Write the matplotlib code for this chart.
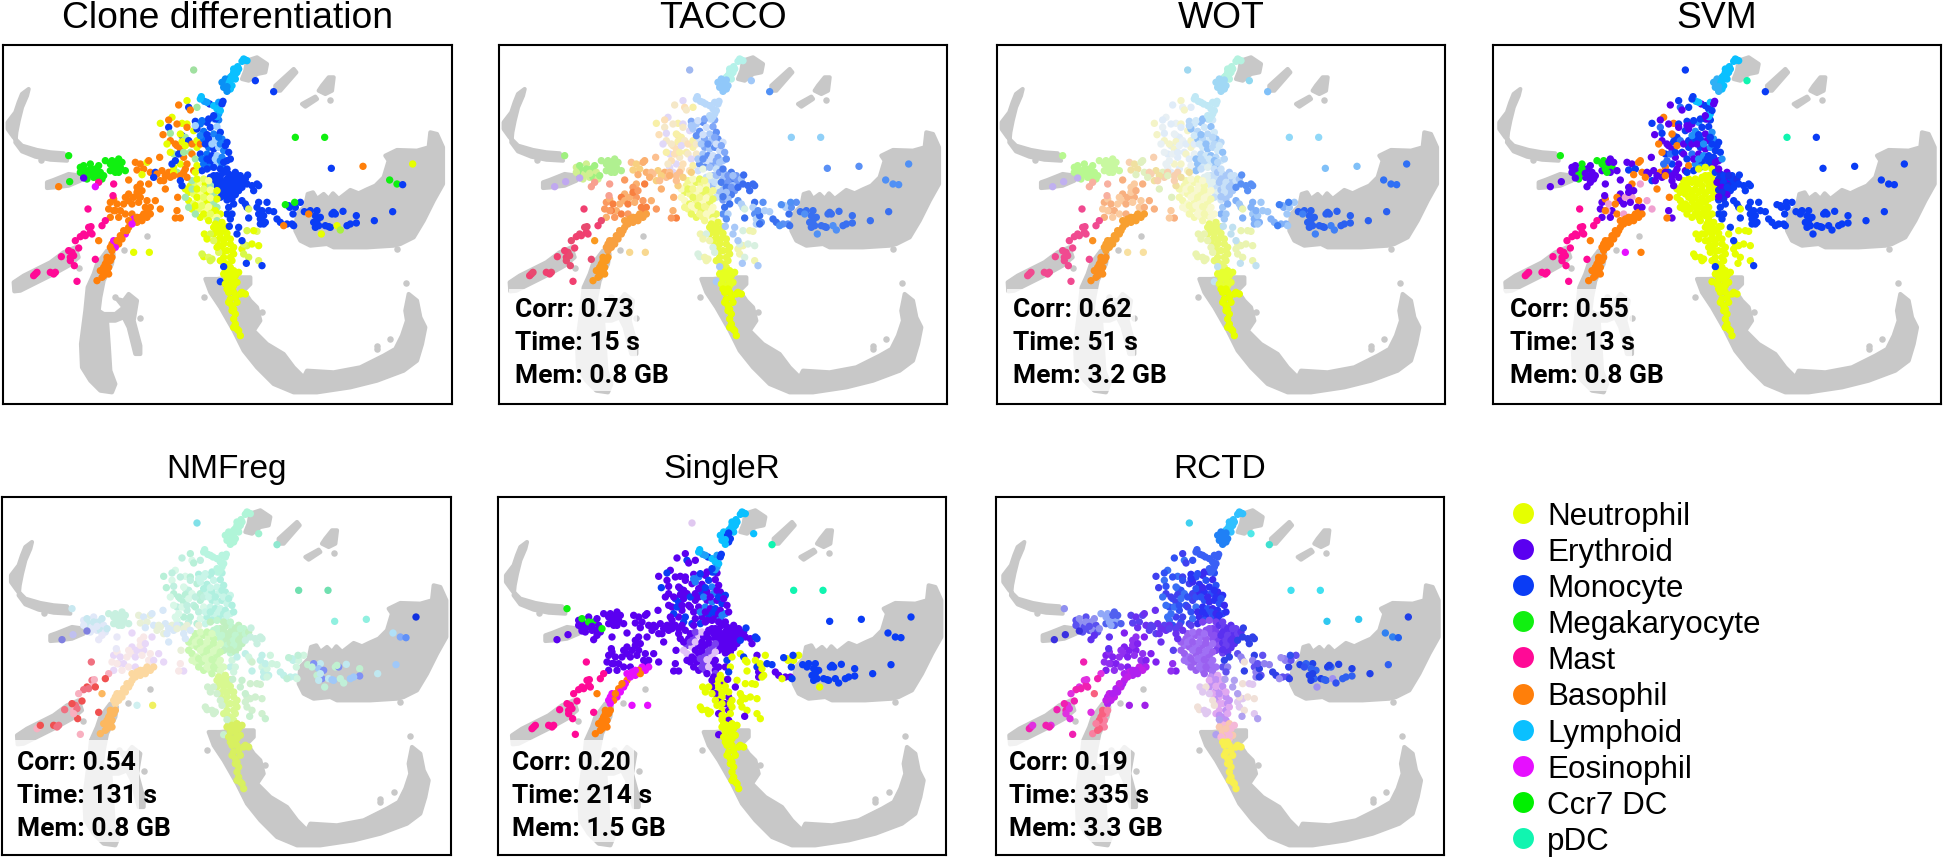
import matplotlib
matplotlib.use("Agg")
import matplotlib.pyplot as plt

plt.rcParams['font.family'] = ['Liberation Sans', 'DejaVu Sans']

W, H = 1943, 858

titles = ["Clone differentiation", "TACCO", "WOT", "SVM", "NMFreg", "SingleR", "RCTD"]
corr = [None, "0.73", "0.62", "0.55", "0.54", "0.20", "0.19"]
time_s = [None, "15", "51", "13", "131", "214", "335"]
mem_gb = [None, "0.8", "3.2", "0.8", "0.8", "1.5", "3.3"]

# panel boxes in pixels: left, top, right, bottom
boxes = [(3, 45, 452, 404), (499, 45, 947, 404), (997, 45, 1445, 404), (1493, 45, 1941, 404),
         (2, 497, 451, 855), (498, 497, 946, 855), (996, 497, 1444, 855)]
shift_x = [0, 0, 0, 5, 13, 10, 8]
shift_y = [0, 0, 0, 0, 3, 3, 3]
label_x = [0, 16, 16, 17, 15, 14, 13]

legend_names = ["Neutrophil", "Erythroid", "Monocyte", "Megakaryocyte", "Mast",
                "Basophil", "Lymphoid", "Eosinophil", "Ccr7 DC", "pDC"]
legend_colors = ["#e6ff00", "#5a00f0", "#0a3cf5", "#10f010", "#ff0a96",
                 "#ff7f0a", "#0ac0ff", "#e60fff", "#00f000", "#10f5b0"]

N, E, M, G, K, B, L, O, P = ("#e6ff00", "#5a00f0", "#0a3cf5", "#10f010", "#ff0a96",
                             "#ff7f0a", "#0ac0ff", "#e60fff", "#10f5b0")

# grey background of the embedding
grey_hook = [(85, 135), (65, 150), (55, 175), (45, 205), (22, 235), (22, 255), (40, 280), (65, 305), (110, 318),
             (150, 325), (190, 328), (200, 350), (150, 347), (105, 338), (65, 322), (45, 295), (48, 265),
             (55, 230), (65, 190), (80, 155)]
grey_branch = [(140, 415), (160, 408), (205, 390), (240, 395), (240, 410), (205, 425), (165, 430), (140, 432)]
grey_mast = [(40, 715), (70, 695), (110, 675), (150, 655), (190, 625), (225, 610), (235, 640), (205, 665),
             (160, 690), (110, 715), (60, 740), (42, 742)]
grey_column = [(290, 660), (320, 620), (340, 630), (335, 660), (310, 710), (300, 760), (295, 800), (310, 810),
               (320, 830), (325, 900), (330, 980), (345, 1020), (335, 1045), (300, 1040), (270, 1010),
               (245, 970), (242, 900), (255, 800), (262, 730), (280, 690)]
grey_side = [(310, 810), (345, 810), (370, 790), (350, 765), (370, 770), (385, 750), (410, 770), (400, 830),
             (420, 905), (420, 930), (405, 930), (385, 850), (370, 820), (345, 830), (320, 830)]
grey_top = [(740, 50), (770, 40), (800, 60), (795, 85), (770, 90), (745, 110), (725, 105), (735, 80)]
grey_streak = [(825, 125), (880, 75), (888, 85), (840, 140), (825, 140)]
grey_blob = [(965, 125), (985, 100), (1000, 100), (995, 140), (975, 150), (955, 140)]
grey_small = [(905, 180), (945, 158), (950, 165), (915, 188)]
grey_right = [(885, 560), (890, 510), (915, 485), (922, 450), (938, 445), (950, 465), (970, 450), (985, 465),
              (998, 448), (1015, 465), (1050, 438), (1075, 448), (1100, 436), (1125, 425), (1150, 400),
              (1165, 350), (1155, 335), (1190, 318), (1250, 320), (1285, 310), (1290, 265), (1310, 270),
              (1328, 310), (1328, 420), (1300, 470), (1270, 530), (1240, 580), (1200, 600), (1180, 605),
              (1100, 610), (1000, 610), (980, 600), (930, 605), (900, 590)]
grey_bottom = [(615, 705), (650, 705), (700, 700), (750, 700), (750, 720), (730, 740), (750, 770), (770, 790),
               (780, 830), (760, 860), (800, 900), (850, 930), (880, 970), (910, 1000), (920, 980), (1000, 985),
               (1080, 970), (1150, 935), (1185, 915), (1205, 875), (1220, 830), (1215, 800), (1225, 750),
               (1250, 770), (1260, 820), (1275, 850), (1265, 900), (1250, 950), (1210, 980), (1130, 1010),
               (1050, 1030), (950, 1045), (880, 1045), (820, 1020), (770, 970), (730, 920), (700, 860),
               (660, 790), (630, 745)]
grey_shapes = [grey_hook, grey_branch, grey_mast, grey_column, grey_side, grey_top, grey_streak,
               grey_blob, grey_small, grey_right, grey_bottom]
grey_dots = [(122, 347), (345, 760), (420, 822), (990, 168), (1190, 615), (1218, 718), (1130, 905), (1130, 915),
             (1170, 885), (610, 760), (785, 805), (440, 577), (372, 617), (237, 672)]

# cells, grouped by region
lym_top = [(735, 48), (725, 52), (712, 68), (700, 75), (705, 90), (695, 95), (690, 110), (705, 105), (710, 85),
           (730, 45), (740, 50), (700, 85), (690, 100), (715, 75)]
lym_low = [(675, 105), (685, 118), (670, 130), (690, 135), (680, 142), (695, 125), (665, 115), (690, 108), (680, 128)]
stem = [(603, 158), (612, 172), (628, 180), (640, 185), (655, 175), (668, 172), (650, 195), (655, 210), (645, 225),
        (600, 165), (620, 175), (665, 180), (660, 200), (650, 218), (640, 215)]
top_far = [(580, 78), (765, 110), (820, 143)]
upper_mix = [(535, 183), (560, 170), (565, 190), (590, 190), (570, 198), (515, 220), (505, 228), (480, 238),
             (505, 250), (510, 268), (488, 272), (545, 238), (530, 240), (560, 240), (545, 275), (555, 280),
             (510, 290), (500, 300), (530, 305), (545, 293), (565, 290), (520, 330), (540, 315), (510, 325),
             (550, 340), (540, 360), (525, 350), (570, 325), (575, 330), (520, 370), (555, 375), (590, 310),
             (600, 330), (585, 345), (580, 380), (540, 270), (560, 250), (580, 260), (535, 330), (550, 325),
             (525, 300), (555, 305), (575, 300), (590, 290), (515, 360), (530, 385), (560, 360), (590, 365),
             (600, 300)]
mono_upper = [(585, 232), (600, 240), (620, 235), (640, 225), (655, 228), (590, 255), (610, 262), (630, 250),
              (650, 248), (640, 270), (660, 265), (610, 285), (625, 285), (645, 290), (665, 285), (680, 295),
              (625, 310), (640, 315), (655, 310), (670, 320), (685, 325), (620, 330), (635, 335), (650, 335),
              (665, 340), (680, 350), (610, 360), (630, 355), (650, 360), (665, 365), (690, 345), (605, 230),
              (625, 225), (585, 245), (600, 275), (620, 272), (655, 280), (615, 300), (635, 300), (660, 300),
              (675, 305), (605, 345), (620, 345), (645, 345), (660, 350), (670, 355), (625, 370), (605, 380)]
core_left = [(650, 395), (645, 410), (660, 405), (650, 425), (665, 420), (660, 440), (670, 455), (630, 400), (620, 375),
             (640, 370), (660, 375), (640, 395), (660, 395), (655, 415), (670, 430), (670, 445), (660, 460)]
core_right = [(670, 385), (685, 390), (705, 385), (720, 395), (680, 405), (700, 405), (715, 410), (685, 422), (705, 420),
              (722, 425), (680, 438), (700, 438), (715, 440), (690, 455), (705, 452), (680, 468), (695, 465), (680, 375),
              (695, 395), (710, 395), (675, 415), (695, 415), (710, 425), (690, 430), (705, 430), (690, 445), (680, 458),
              (725, 410), (735, 405)]
mono_tail = [(742, 393), (740, 420), (725, 430), (755, 425), (770, 420), (760, 440), (775, 425)]
mono_lower = [(725, 470), (735, 480), (775, 475), (800, 475), (770, 490), (685, 490), (680, 510), (695, 510),
              (745, 522), (775, 510), (780, 525), (790, 515), (795, 535), (820, 503), (830, 525), (900, 475),
              (868, 490), (878, 510), (875, 540), (740, 490), (700, 480), (690, 525), (780, 540), (790, 540),
              (785, 500), (805, 500), (840, 535), (885, 490), (865, 485), (880, 545), (860, 540)]
right_grey = [(950, 500), (945, 515), (940, 535), (955, 545), (975, 545), (990, 550), (995, 510), (1005, 510),
              (1028, 502), (1040, 545), (1068, 515), (1068, 537), (1122, 530), (1177, 503), (912, 503),
              (960, 520), (950, 530), (985, 548), (1000, 505), (930, 500), (945, 550), (1050, 540)]
right_edge = [(855, 482), (883, 475), (850, 545), (925, 510), (1010, 545), (1020, 558), (963, 570)]
right_top = [(1168, 408), (1190, 420), (1207, 422), (1237, 360)]
far_top = [(885, 280), (973, 280)]
far_low = [(993, 373), (1088, 367)]
neut_center = [(570, 425), (585, 420), (600, 415), (615, 420), (630, 425), (565, 445), (580, 450), (600, 445),
               (620, 445), (640, 450), (565, 470), (580, 480), (600, 470), (620, 475), (640, 475), (575, 495),
               (595, 495), (615, 500), (635, 495), (650, 490), (600, 520), (620, 520), (640, 515), (660, 510),
               (575, 410), (590, 405), (610, 405), (625, 410), (555, 435), (575, 435), (590, 435), (610, 435),
               (630, 438), (650, 440), (555, 460), (590, 460), (610, 460), (630, 462), (650, 465), (565, 490),
               (585, 485), (605, 485), (625, 488), (645, 500), (585, 510), (610, 510), (630, 510), (650, 520),
               (625, 530), (650, 530)]
neut_trunk = [(645, 540), (665, 535), (650, 560), (670, 560), (660, 580), (680, 580), (690, 600), (670, 600),
              (655, 605), (680, 620), (695, 620), (670, 640), (690, 640), (700, 630), (680, 660), (640, 550),
              (660, 548), (680, 548), (640, 570), (660, 568), (680, 568), (650, 590), (670, 590), (690, 585),
              (660, 615), (670, 620), (700, 610), (660, 650), (670, 655), (695, 650), (690, 670), (675, 680)]
neut_side = [(612, 570), (630, 570), (640, 590), (610, 638), (635, 645), (655, 625), (725, 615), (740, 560),
             (770, 562), (775, 605), (740, 605), (745, 495), (620, 585), (605, 630), (625, 640), (650, 610),
             (730, 630), (730, 600), (760, 560), (745, 640), (775, 650), (755, 600), (630, 650)]
blue_side = [(687, 547), (715, 550), (710, 570), (725, 590), (738, 658), (785, 665), (660, 713), (670, 668)]
neut_low1 = [(685, 685), (700, 680), (715, 685), (680, 705), (695, 705), (685, 725), (700, 725), (670, 690),
             (705, 695), (690, 695), (675, 720), (710, 715), (700, 715)]
neut_low2 = [(685, 745), (700, 745), (720, 750), (735, 750), (690, 765), (695, 785), (700, 825), (705, 840),
             (710, 855), (720, 875), (680, 735), (695, 735), (705, 760), (685, 775), (710, 775), (700, 795),
             (695, 800), (705, 810), (725, 745), (715, 860), (700, 850)]
mid_row = [(405, 355), (420, 360), (440, 355), (478, 340), (430, 375), (450, 385), (465, 385), (485, 380),
           (505, 385), (520, 385), (480, 410), (495, 435), (540, 395), (545, 425), (532, 460), (510, 400), (585, 385),
           (445, 350), (470, 390), (495, 395), (460, 400), (490, 410), (410, 378), (425, 392), (550, 385),
           (560, 400), (520, 395), (540, 410)]
baso_center = [(385, 408), (420, 420), (445, 420), (410, 430), (385, 450), (375, 460), (420, 460), (385, 470),
               (395, 480), (440, 470), (465, 470), (435, 490), (330, 475), (340, 465), (350, 480), (325, 495),
               (360, 500), (440, 505), (480, 495), (530, 500), (540, 522), (525, 522), (400, 460), (410, 445),
               (425, 440), (370, 480), (345, 500), (355, 520), (330, 520), (375, 510), (395, 510), (415, 475),
               (450, 490), (340, 500)]
baso_stream = [(450, 510), (430, 510), (420, 520), (400, 525), (385, 530), (385, 550), (410, 535), (375, 570),
               (360, 575), (355, 600), (335, 600), (345, 610), (335, 620), (440, 520), (425, 530), (395, 540),
               (380, 560), (370, 560), (365, 585), (340, 590), (350, 590), (330, 610), (410, 520)]
baso_low = [(320, 640), (330, 650), (315, 660), (325, 670), (310, 680), (320, 680), (295, 590), (290, 710),
            (320, 650), (335, 640), (310, 670), (325, 690), (310, 695), (300, 680), (305, 700)]
mast = [(263, 495), (315, 530), (305, 545), (265, 550), (270, 565), (250, 570), (240, 578), (225, 590), (235, 612),
        (215, 625), (210, 640), (222, 665), (183, 638), (105, 690), (150, 685), (165, 685), (230, 712), (285, 646),
        (255, 575), (272, 548), (205, 620), (220, 635), (100, 695), (110, 685), (160, 690), (210, 650), (275, 570)]
mega_left = [(205, 335), (240, 370), (255, 380), (270, 360), (285, 375), (300, 385), (250, 395), (280, 400),
             (250, 365), (265, 390), (290, 400), (305, 405), (270, 375), (240, 385), (295, 365), (260, 405),
             (310, 395), (280, 388)]
mega_right = [(335, 350), (355, 345), (345, 365), (330, 380), (360, 370), (375, 380), (315, 350), (350, 355),
              (340, 375), (355, 385), (330, 360), (365, 355), (345, 385)]
branch = [(175, 428), (208, 413), (250, 402)]
other = [(295, 415), (340, 420), (338, 455), (285, 428)]
singles = [(400, 625), (447, 625)]

# colours per panel: clone, TACCO, WOT, SVM, NMFreg, SingleR, RCTD. several colours alternate over the points
groups = [
    (upper_mix, [f"{B} {N} {M} #a0e8a0 {B} {N}", "#f5e8c8 #e0d8f8 #fce0b8 #f8f0a8", "#e0ecf8 #f4f4c8 #e8f0f4",
                 f"{E} {M} #2a70f8 {M} {E} {B}", "#c0f0e0 #b8f0d8 #d8f8e8", f"{E} {E} {M} {E}", "#3050f5 #4040f0 #3a70f5"]),
    (mono_upper, [f"{M} #0a70f8 {M} #a0d0ff #1a80f8", "#80a8f8 #a8c8fa #6090f5 #d0e0fa", "#b8d8f8 #d0e8f8 #90c0f8",
                  f"{M} {E} #2090f8 {M}", "#b0f0e0 #c8f5e8", f"{E} #2080f8 {E} {M}", "#2a30f5 #2a50f5 #3a2af0"]),
    (core_left, [M, "#a0c0f8 #c8e0f8 #e8f4e0", "#c8e0f8 #e0eff0", N, "#c0f0c0 #c0f5d0", E, "#7a40f0 #8a50f0"]),
    (core_right, [M, "#7098f5 #a0c0f8 #4a7cf0", "#a8c8f8 #c8e0f8", f"{M} #1a30e8 {E}", "#c0f0c0 #c0f5d0", E, "#5a30f0 #6a40f0"]),
    (mono_tail, [M, "#3a6cf0", "#5a90f5", M, "#c8f0e0", f"{M} {E}", "#3040e8"]),
    (mono_lower, [M, "#5a90f5 #b0d0f8 #3a70f0", "#80b0f8 #a0c8f8", M, "#c0f0e8 #d0f5e0", f"{N} {M} {E} {N}",
                  "#6050f0 #9080f0 #3040e8"]),
    (right_grey, [M, "#3a70f0", "#2a60f0", M, "#c0e8f0 #a0c8f8 #c0f0d0 #8090f5", M, "#2040e8 #3060f0"]),
    (right_edge, [f"{G} {G} {B} {B} {N} #a8f040 {N}", "#5090f5", "#4080f5", M, "#c0f0d8", f"{M} {M} {N} {M}", "#a090f0 #3050f0"]),
    (right_top, [f"{G} {G} {M} {N}", "#5090f5", "#3070f5", M, "#b0e0f8 #80a8f8 #6090f8 #1030e0", M,
                 "#3080f0 #3080f0 #2060f0 #2040e8"]),
    (far_top, [G, "#90d0f8", "#90d8f8", f"{P} {M}", "#70e0b0", P, "#40e0f0"]),
    (far_low, [f"{M} {B}", "#5a90f5", "#80c0f8", M, "#90f0e0", M, "#30c8f0"]),
    (top_far, [f"#a0e0a0 {M} {M}", "#a0b8f0 #a0c8f8 #5090f5", "#a0d8f0 #90d8f0 #80c0f8", f"{M} {P} {M}",
               "#80e0e8 #a0f0d0 #90e8d0", f"#e0c8f0 {L} {P}", "#40d0f0 #50e8e8 #40e0d0"]),
    (lym_top, [L, "#b5f2ea", "#b5f2e0", L, "#b0f5d8", L, "#30c0ff"]),
    (lym_low, [f"#0a90f5 {L}", "#90c8fa", "#a0d8f5", f"#30b0f5 {L}", "#b0f5d8", f"{L} {M}", "#2080f5"]),
    (stem, [f"{L} #10a0ff {M}", "#b8d8fa", "#c0e8f5", f"{M} {L} {E}", "#b8f5e0", f"{L} #20a0f8 {M}", "#3a60f5"]),
    (neut_center, [f"{N} #e8ff60 #f8ff90 {N} #a0e8b0", "#f4f890 #fafac0 #eaf860", "#f4f8b0 #f8f8d0", N,
                   "#c8f8b0 #d8fac0", f"{E} #7a40f0 #e0c0f8 {E}", "#9a60f0 #a070f5"]),
    (neut_trunk, [N, "#e8f840", "#e8f870", N, "#d8f890", f"{E} {N} {N}", "#c090f5 #e0a8f0"]),
    (neut_side, [f"{N} #d8f848 #e0f860", "#f0f4b0 #d8f0e0", "#eaf4b0", N, "#d0f0d0", N, "#e0c8f0 #f0e0d8"]),
    (blue_side, [M, "#a8c8f8", "#c0e0f0", f"{N} {M}", "#c8f0d0", f"{E} {N}", "#b0a0f0"]),
    (neut_low1, [N, "#e6ff20", "#e6ff30", N, "#d8f060", N, "#f5b8d8 #f8c8b0"]),
    (neut_low2, [N, N, N, N, "#d8f060", N, "#f8f050"]),
    (mid_row, [f"{B} {B} {N} {B} {B} {B} {M}", "#fcc090 #f8d080 #fbb070", "#f8d0b0 #f0e0a0 #e0f0c0",
               f"{E} {E} {B} {E} {M} {B}", "#e8f0d8 #d8e8f8", E, "#5a40f0 #6a30f0"]),
    (baso_center, [B, "#fa9a60 #fab070 #f88040", "#f8b080 #fbcba0", f"{E} {B} #f0a0d0 {E}", "#e8d8f8 #f8e8e8", E,
                   "#8020f0 #9030f0"]),
    (baso_stream, [f"{B} {B} {B} {O}", "#f8a040", "#f8a030", B, "#fcd8a0", f"{O} {O} {B}", "#b020f0 #c020e8"]),
    (baso_low, [B, "#fa9a20", "#fa9020", B, "#fcb860", B, "#f86080 #f880a0"]),
    (mast, [K, "#f04070 #e84a70", "#f04a90", K, "#f07080 #f8b0c0 #f05050", K, "#f020b0 #e030e0"]),
    (mega_left, [G, "#a0f080 #d0f090", "#b8f890", f"{G} {E} {E}", "#c8e8f0 #e0e8f8", f"{G} {E} {E} {E}", "#9090f0 #5a50f0"]),
    (mega_right, [G, "#b0f090", "#c8f8a0", f"{G} {E}", "#c8f0e0", E, "#90a8f8 #5060f0"]),
    (branch, [f"{B} {G} {E}", "#c0a8f0", "#c0b0f0", E, "#8080e0 #c0c0f0", E, "#3a30e0"]),
    (other, [f"{K} {K} {K} {O}", "#f8a090", "#f8b0a0", E, "#e8e8f8", E, "#6030f0"]),
    (singles, [N, "#f8d890", "#f8e0a0", f"{O} {B}", "#d0f0f0 #f0f060", O, "#a020e8"]),
]

GREY = "#c8c8c8"

fig = plt.figure(figsize=(W / 100, H / 100), dpi=100)

for i, (left, top, right, bottom) in enumerate(boxes):
    ax = fig.add_axes([left / W, 1 - bottom / H, (right - left) / W, (bottom - top) / H])
    # the data coordinates are 3x pixels of the first panel
    x0 = 8 - shift_x[i]
    y0 = 3 - shift_y[i]
    ax.set_xlim(x0, x0 + 3 * (right - left))
    ax.set_ylim(y0 + 3 * (bottom - top), y0)
    ax.set_xticks([])
    ax.set_yticks([])
    for sp in ax.spines.values():
        sp.set_linewidth(1.5)
        sp.set_zorder(10)

    for shape in grey_shapes:
        ax.fill([p[0] for p in shape], [p[1] for p in shape], color=GREY, lw=3, joinstyle='round', zorder=1)
    ax.scatter([p[0] for p in grey_dots], [p[1] for p in grey_dots], s=22, c=GREY, linewidths=0, zorder=1)

    for pts, cols in groups:
        cycle = cols[i].split()
        ax.scatter([p[0] for p in pts], [p[1] for p in pts], s=28,
                   c=[cycle[k % len(cycle)] for k in range(len(pts))], linewidths=0, zorder=2)

    title_y = 28 if i < 4 else 478
    title_size = 26.8 if i < 4 else 24
    fig.text((left + right) / 2 / W, 1 - title_y / H, titles[i], ha='center', va='baseline', fontsize=title_size)

    if corr[i] is not None:
        # pale box under the numbers
        ax.fill_between([x0 + 3 * (label_x[i] - 6), x0 + 3 * (label_x[i] + 122)],
                        y0 + 3 * (bottom - top) - 345, y0 + 3 * (bottom - top) - 40,
                        color='white', alpha=0.75, lw=0, zorder=3)
        base = 317 if i < 4 else 770
        lines = [f"Corr: {corr[i]}", f"Time: {time_s[i]} s", f"Mem: {mem_gb[i]} GB"]
        for j, line in enumerate(lines):
            fig.text((left + label_x[i]) / W, 1 - (base + 33 * j) / H, line, fontsize=19, fontweight='bold',
                     family=['Roboto', 'Liberation Sans'], va='baseline', zorder=20)

leg = fig.add_axes([0, 0, 1, 1], facecolor='none')
leg.set_xlim(0, W)
leg.set_ylim(H, 0)
leg.axis('off')
for k, name in enumerate(legend_names):
    y = 513 + 36.1 * k
    leg.scatter([1523], [y], s=227, c=legend_colors[k], linewidths=0)
    leg.text(1547, y + 12, name, fontsize=22.6, va='baseline')

fig.savefig("out.png", dpi=100)
